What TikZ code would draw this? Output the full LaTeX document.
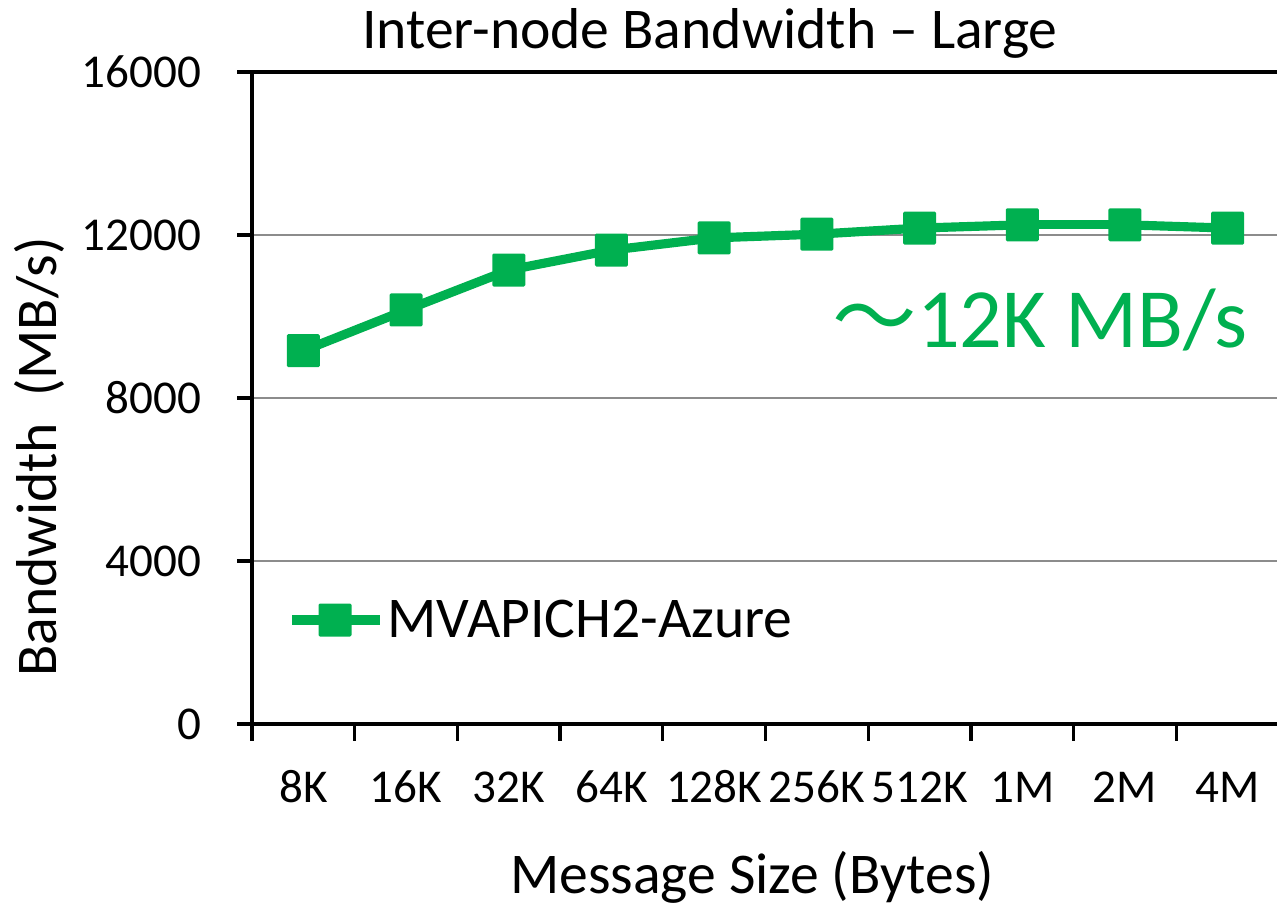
\documentclass[tikz,border=0pt]{standalone}
\usepackage{fontspec}
\setmainfont{Carlito}
\newfontfamily\cjk{Noto Sans CJK SC}
\definecolor{bwgreen}{RGB}{0,176,80}
\definecolor{gridgray}{RGB}{140,140,140}
\tikzset{
  ticklabel/.style={font=\fontsize{13.4}{16}\selectfont, inner sep=0pt},
  axislabel/.style={font=\fontsize{16.4}{19}\selectfont, inner sep=0pt},
  bwmark/.style={fill=bwgreen, minimum size=3.3mm, inner sep=0pt, rounded corners=0.4pt},
  bwline/.style={bwgreen, line width=2.6pt, line join=round},
  axisline/.style={line width=0.95pt},
}

\begin{document}
\begin{tikzpicture}[x=1.027cm, y=0.4075cm]
\useasboundingbox (-2.52cm,-1.81cm) rectangle (10.25cm,7.24cm);

% grid and frame
\foreach \v in {4,8,12}
  \draw[gridgray, line width=0.7pt] (0,\v) -- (10,\v);
\draw[axisline] (-0.15cm,16) -- (10,16);

% y axis
\draw[axisline] (0,0) -- (0,16);
\foreach \v/\t in {0/0,4/4000,8/8000,12/12000,16/16000} {
  \draw[axisline] (-0.15cm,\v) -- (0,\v);
  \node[ticklabel, anchor=east] (yl\v) at (-0.5cm,\v) {\t};
}

% x axis
\draw[axisline] (-0.15cm,0) -- (10,0);
\foreach \i in {0,...,9}
  \draw[axisline] (\i,0) -- (\i,-0.17cm);
\foreach \i/\t in {1/8K,2/16K,3/32K,4/64K,5/128K,6/256K,7/512K,8/1M,9/2M,10/4M}
  \node[ticklabel] (xl\i) at (\i-0.5,-0.63cm) {\t};

% labels
\node[axislabel] (title) at (4.58cm,6.91cm) {Inter-node Bandwidth -- Large};
\node[axislabel, anchor=base] (xlabel) at (5.0cm,-1.69cm) {Message Size (Bytes)};
\node[axislabel, anchor=base, rotate=90] (ylabel) at (-1.95cm,2.67cm) {Bandwidth\ \ (MB/s)};

% data
\foreach \i/\v in {1/9.16,2/10.16,3/11.14,4/11.63,5/11.93,6/12.02,7/12.17,8/12.25,9/12.25,10/12.17}
  \coordinate (p\i) at (\i-0.5,\v);
\foreach \i [evaluate=\i as \j using int(\i+1)] in {1,...,9}
  \draw[bwline] (p\i) -- (p\j);
\foreach \i in {1,...,10}
  \node[bwmark] (m\i) at (p\i) {};

% legend
\coordinate (lga) at (0.40cm,1.04cm);
\coordinate (lgb) at (1.28cm,1.04cm);
\draw[bwline] (lga) -- (lgb);
\node[bwmark] (lgm) at (0.83cm,1.04cm) {};
\node[axislabel, anchor=base west] (lgtext) at (1.35cm,0.87cm) {MVAPICH2-Azure};

\node[anchor=base west, inner sep=0pt, text=bwgreen, font=\fontsize{24}{28}\selectfont]
  (peak) at (5.80cm,3.77cm) {{\cjk ～}12K MB/s};
\end{tikzpicture}
\end{document}
